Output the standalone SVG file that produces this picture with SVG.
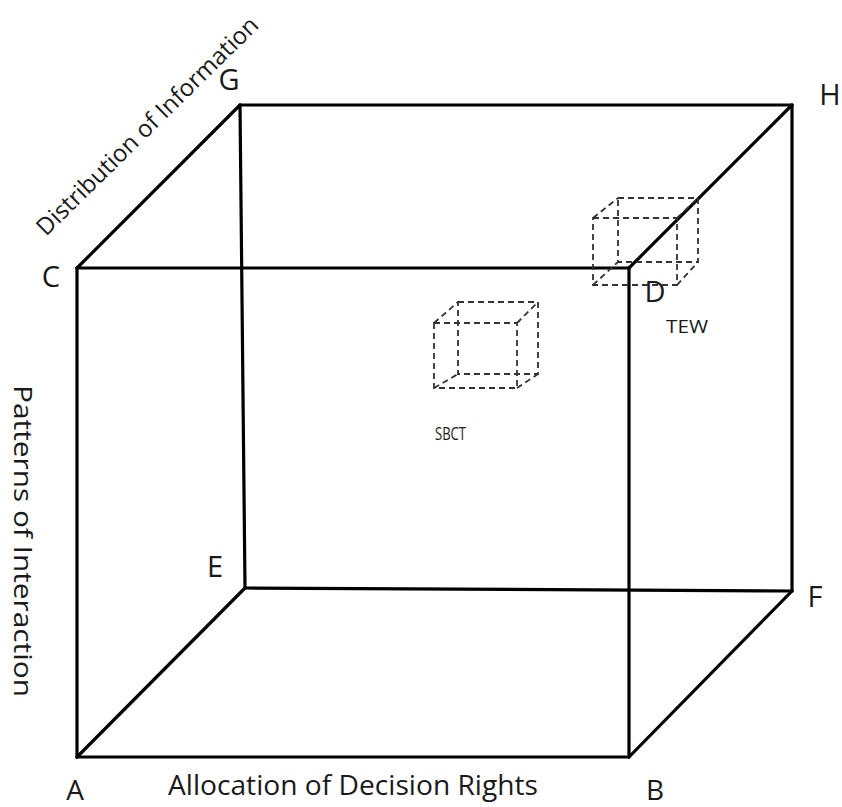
<svg xmlns="http://www.w3.org/2000/svg" width="842" height="807" viewBox="0 0 842 807">
<style>
.edge{stroke:#000;stroke-width:3.2;fill:none;stroke-linecap:round;stroke-linejoin:round}
.dash{stroke:#333;stroke-width:1.8;fill:none;stroke-dasharray:6 4}
.lbl{font-family:"Open Sans","Liberation Sans",sans-serif;fill:#1a1a1a}
.vx{font-size:29px;text-anchor:middle}
.ax{font-size:27px}
.sm{font-size:17px}
</style>
<rect width="842" height="807" fill="#fff"/>
<g id="connectors">
<line class="edge" x1="240" y1="105" x2="792" y2="105"/>
<line class="edge" x1="792" y1="105" x2="792" y2="591"/>
<line class="edge" x1="245" y1="588" x2="792" y2="591"/>
<line class="edge" x1="240" y1="105" x2="245" y2="588"/>
<line class="edge" x1="77" y1="268" x2="629" y2="268"/>
<line class="edge" x1="629" y1="268" x2="629" y2="757"/>
<line class="edge" x1="77" y1="757" x2="629" y2="757"/>
<line class="edge" x1="77" y1="268" x2="77" y2="757"/>
<line class="edge" x1="77" y1="268" x2="240" y2="105"/>
<line class="edge" x1="629" y1="268" x2="792" y2="105"/>
<line class="edge" x1="77" y1="757" x2="245" y2="588"/>
<line class="edge" x1="629" y1="757" x2="792" y2="591"/>
</g>
<g id="vertex-A"><text class="lbl vx" x="75" y="800" style="font-size:28px">A</text></g>
<g id="vertex-B"><text class="lbl vx" x="655" y="800" style="font-size:28px">B</text></g>
<g id="vertex-C"><text class="lbl vx" x="51" y="287">C</text></g>
<g id="vertex-D"><text class="lbl vx" x="655" y="302">D</text></g>
<g id="vertex-E"><text class="lbl vx" x="215" y="577">E</text></g>
<g id="vertex-F"><text class="lbl vx" x="815" y="607">F</text></g>
<g id="vertex-G"><text class="lbl vx" x="229" y="90">G</text></g>
<g id="vertex-H"><text class="lbl vx" x="830" y="105">H</text></g>
<g id="axis-allocation"><text class="lbl ax" x="168" y="795" textLength="370" lengthAdjust="spacingAndGlyphs">Allocation of Decision Rights</text></g>
<g id="axis-patterns"><text class="lbl ax" transform="translate(14,385) rotate(90)" x="0" y="0" style="font-size:25px" textLength="312" lengthAdjust="spacingAndGlyphs">Patterns of Interaction</text></g>
<g id="axis-distribution"><text class="lbl ax" transform="translate(46,237) rotate(-44.5)" x="0" y="0" style="font-size:24px" textLength="300" lengthAdjust="spacingAndGlyphs">Distribution of Information</text></g>
<g id="cube-SBCT">
<rect class="dash" x="458" y="302" width="80" height="72"/>
<rect class="dash" x="434" y="323" width="83" height="65"/>
<line class="dash" x1="434" y1="323" x2="458" y2="302"/>
<line class="dash" x1="517" y1="323" x2="538" y2="302"/>
<line class="dash" x1="517" y1="388" x2="538" y2="374"/>
<line class="dash" x1="434" y1="388" x2="458" y2="374"/>
<text class="lbl sm" x="435" y="440" style="font-size:18px" textLength="31" lengthAdjust="spacingAndGlyphs">SBCT</text>
</g>
<g id="cube-TEW">
<rect class="dash" x="618" y="198" width="80" height="64"/>
<rect class="dash" x="593" y="218" width="84" height="67"/>
<line class="dash" x1="593" y1="218" x2="618" y2="198"/>
<line class="dash" x1="677" y1="218" x2="698" y2="198"/>
<line class="dash" x1="677" y1="285" x2="698" y2="262"/>
<line class="dash" x1="593" y1="285" x2="618" y2="262"/>
<text class="lbl sm" x="666" y="333" style="font-size:19px" textLength="42" lengthAdjust="spacingAndGlyphs">TEW</text>
</g>
</svg>
